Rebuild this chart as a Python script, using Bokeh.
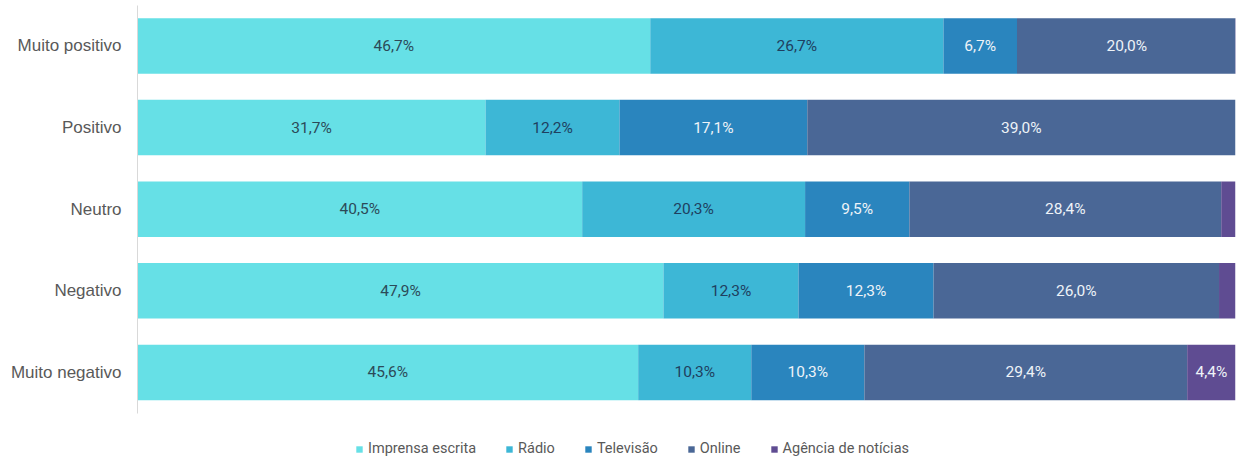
from bokeh.plotting import figure
from bokeh.models import ColumnDataSource, Range1d, FixedTicker, Legend, LegendItem
from bokeh.embed import file_html
from bokeh.resources import INLINE
from bokeh.core.properties import value

categories = ["Muito positivo", "Positivo", "Neutro", "Negativo", "Muito negativo"]
series = ["Imprensa escrita", "Rádio", "Televisão", "Online", "Agência de notícias"]
imprensa = [46.7, 31.7, 40.5, 47.9, 45.6]
radio = [26.7, 12.2, 20.3, 12.3, 10.3]
televisao = [6.7, 17.1, 9.5, 12.3, 10.3]
online = [20.0, 39.0, 28.4, 26.0, 29.4]
agencia = [0.0, 0.0, 1.3, 1.5, 4.4]

colors = ["#66E0E6", "#3DB7D6", "#2A85BE", "#4A6796", "#5F4C92"]
label_colors = ["#2c4a58", "#1f3f60", "#eef3f8", "#eef3f8", "#eef3f8"]

values = [imprensa, radio, televisao, online, agencia]
n = len(categories)
ypos = [n - 1 - i for i in range(n)]

data = {"y": ypos, "cat": categories}
for s, v in zip(series, values):
    data[s] = v
source = ColumnDataSource(data)

p = figure(width=1237, height=457, output_backend="svg", toolbar_location=None,
           x_range=Range1d(0, 100), y_range=Range1d(-1.043, 4.496),
           min_border_left=137, min_border_right=2, min_border_top=5, min_border_bottom=0)
p.outline_line_color = None
p.background_fill_color = "white"
p.border_fill_color = "white"
p.xgrid.visible = False
p.ygrid.visible = False
p.xaxis.visible = False

renderers = p.hbar_stack(series, y="y", height=0.68, color=colors, source=source, line_color=None)

# value labels
left = [0.0] * n
for k, (s, v) in enumerate(zip(series, values)):
    xs, ys, txt = [], [], []
    for i in range(n):
        if v[i] >= 2:
            xs.append(left[i] + v[i] / 2)
            ys.append(ypos[i])
            txt.append(f"{v[i]:.1f}%".replace(".", ","))
        left[i] += v[i]
    p.text(x=xs, y=ys, text=txt, text_align="center", text_baseline="middle",
           text_font=value("Roboto"), text_font_size="15.5px", text_color=label_colors[k])

ax = p.yaxis[0]
ax.ticker = FixedTicker(ticks=ypos)
ax.major_label_overrides = {y: c for y, c in zip(ypos, categories)}
ax.bounds = (-0.504, 4.496)
ax.major_tick_line_color = None
ax.minor_tick_line_color = None
ax.axis_line_color = "#d9d9d9"
ax.major_label_text_font = "Liberation Sans"
ax.major_label_text_font_size = "17px"
ax.major_label_text_color = "#595959"
ax.major_label_standoff = 10

items = [LegendItem(label=s, renderers=[r]) for s, r in zip(series, renderers)]
legend = Legend(items=items, orientation="horizontal", location=(218, 0),
                glyph_width=8, glyph_height=8, label_standoff=5, spacing=29,
                padding=0, margin=0, border_line_color=None, background_fill_alpha=0,
                label_text_font="Roboto", label_text_font_size="14.5px",
                label_text_color="#595959", label_height=16)
p.add_layout(legend, "center")

open("out.html", "w").write(file_html(p, INLINE))
